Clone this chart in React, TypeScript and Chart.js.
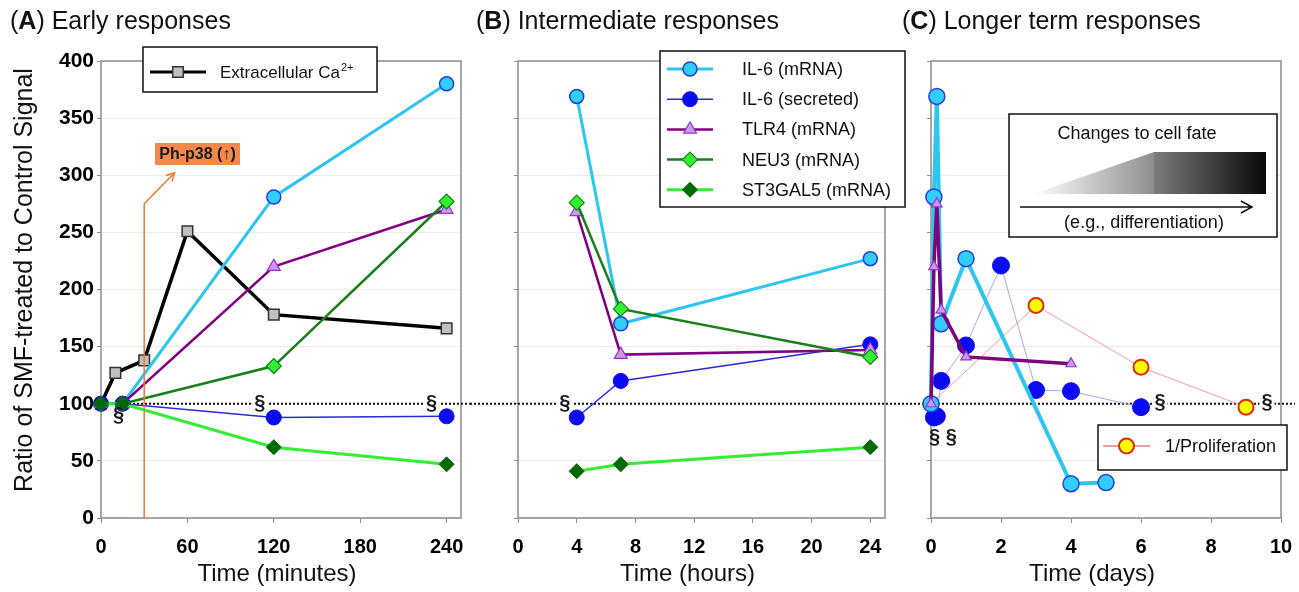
import React, { useEffect, useRef } from 'react';
import { Chart, registerables } from 'chart.js';

Chart.register(...registerables);

const FONT = '"Liberation Sans", Arial, Helvetica, sans-serif';
const H = 592;
const X_AXIS_H = 74;
const PLOT_TOP = 61;

// ---------- Panel A : early responses (minutes) ----------
const caMinutes = [0, 10, 30, 60, 120, 240];
const caValues = [100, 127, 138, 251, 178, 166];
const earlyMinutes = [0, 15, 120, 240];
const il6mRnaEarly = [100, 100, 281, 380];
const il6SecretedEarly = [100, 100, 88, 89];
const tlr4Early = [100, 100, 220, 270];
const neu3Early = [100, 100, 133, 277];
const st3gal5Early = [100, 100, 62, 47];
const ph38Minute = 30;

// ---------- Panel B : intermediate responses (hours) ----------
const midHours = [4, 7, 24];
const il6mRnaMid = [369, 170, 227];
const il6SecretedMid = [88, 120, 152];
const tlr4Mid = [268, 143, 147];
const neu3Mid = [276, 183, 141];
const st3gal5Mid = [41, 47, 62];

// ---------- Panel C : longer term responses (days) ----------
const il6mRnaLongDays = [0, 0.083, 0.167, 0.29, 1, 4, 5];
const il6mRnaLong = [100, 281, 369, 170, 227, 30, 31];
const il6SecretedLongDays = [0.083, 0.167, 0.29, 1, 2, 3, 4, 6];
const il6SecretedLong = [88, 89, 120, 151, 221, 112, 111, 97];
const tlr4LongDays = [0, 0.083, 0.167, 0.29, 1, 4];
const tlr4Long = [100, 220, 275, 182, 141, 135];
const prolifDays = [0, 3, 6, 9];
const prolifLong = [100, 186, 132, 97];

const yTickStep = 50;
const yMin = 0;
const yMax = 400;
const baselineValue = 100;

const LBL_CA = 'Extracellular Ca';
const LBL_IL6M = 'IL-6 (mRNA)';
const LBL_IL6S = 'IL-6 (secreted)';
const LBL_TLR4 = 'TLR4 (mRNA)';
const LBL_NEU3 = 'NEU3 (mRNA)';
const LBL_ST3 = 'ST3GAL5 (mRNA)';
const LBL_PROL = '1/Proliferation';

type Mk = { shape: string; r: number; fill: string; stroke: string; sw: number };
type St = { line: string; lw: number; mk: Mk };

const stCa: St = { line: '#000000', lw: 3.5, mk: { shape: 'square', r: 7.5, fill: '#c0c0c0', stroke: '#333333', sw: 1.5 } };
const stIl6m: St = { line: '#2cc6f0', lw: 3, mk: { shape: 'circle', r: 7, fill: '#33ccff', stroke: '#1f3fe0', sw: 1.5 } };
const stIl6s: St = { line: '#2a2ad8', lw: 1.5, mk: { shape: 'circle', r: 7.5, fill: '#0b0bf2', stroke: '#0b0bf2', sw: 1 } };
const stTlr4: St = { line: '#800080', lw: 2.5, mk: { shape: 'triangle', r: 7.5, fill: '#cc99ee', stroke: '#9933cc', sw: 1.2 } };
const stNeu3: St = { line: '#1a7f1a', lw: 2.5, mk: { shape: 'diamond', r: 7.5, fill: '#33f033', stroke: '#118811', sw: 1.2 } };
const stSt3: St = { line: '#33ee33', lw: 3, mk: { shape: 'diamond', r: 7.5, fill: '#006a00', stroke: '#006a00', sw: 1 } };
const stProl: St = { line: '#f0a0a0', lw: 1, mk: { shape: 'circle', r: 7.5, fill: '#ffff00', stroke: '#e02a10', sw: 2 } };
const stIl6mC: St = { line: '#2cc6f0', lw: 4, mk: { ...stIl6m.mk, r: 8 } };
const stIl6sC: St = { line: '#a8a8f0', lw: 1, mk: { ...stIl6s.mk, r: 8.5 } };
const stTlr4C: St = { line: '#800080', lw: 3.5, mk: { ...stTlr4.mk, r: 6 } };

const shapeMap: Record<string, string> = { circle: 'circle', triangle: 'triangle', diamond: 'rectRot', square: 'rect' };

function ds(xs: number[], ys: number[], st: St, order: number, extra: any = {}) {
  return {
    data: xs.map((x, i) => ({ x, y: ys[i] })),
    borderColor: st.line,
    borderWidth: st.lw,
    pointStyle: shapeMap[st.mk.shape],
    pointRadius: st.mk.r,
    pointHoverRadius: st.mk.r,
    pointBackgroundColor: st.mk.fill,
    pointBorderColor: st.mk.stroke,
    pointBorderWidth: st.mk.sw,
    tension: 0,
    fill: false,
    clip: false,
    order,
    ...extra,
  };
}

function drawMarker(ctx: CanvasRenderingContext2D, x: number, y: number, m: Mk) {
  ctx.save();
  ctx.beginPath();
  const r = m.r;
  if (m.shape === 'circle') ctx.arc(x, y, r, 0, Math.PI * 2);
  else if (m.shape === 'triangle') {
    for (let i = 0; i < 3; i++) {
      const a = -Math.PI / 2 + (i * 2 * Math.PI) / 3;
      const px = x + Math.cos(a) * r;
      const py = y + Math.sin(a) * r;
      if (i === 0) ctx.moveTo(px, py); else ctx.lineTo(px, py);
    }
    ctx.closePath();
  } else if (m.shape === 'diamond') {
    ctx.moveTo(x, y - r); ctx.lineTo(x + r, y); ctx.lineTo(x, y + r); ctx.lineTo(x - r, y); ctx.closePath();
  } else {
    const s = r * Math.SQRT1_2;
    ctx.rect(x - s, y - s, 2 * s, 2 * s);
  }
  ctx.fillStyle = m.fill;
  ctx.fill();
  ctx.lineWidth = m.sw;
  ctx.strokeStyle = m.stroke;
  ctx.stroke();
  ctx.restore();
}

function legendBox(ctx: CanvasRenderingContext2D, x1: number, y1: number, x2: number, y2: number) {
  ctx.save();
  ctx.fillStyle = '#ffffff';
  ctx.fillRect(x1, y1, x2 - x1, y2 - y1);
  ctx.strokeStyle = '#111111';
  ctx.lineWidth = 1.5;
  ctx.strokeRect(x1, y1, x2 - x1, y2 - y1);
  ctx.restore();
}

function legendRow(ctx: CanvasRenderingContext2D, x1: number, x2: number, y: number, st: St, label: string, tx: number, size: number) {
  ctx.save();
  ctx.strokeStyle = st.line;
  ctx.lineWidth = Math.min(st.lw, 3);
  ctx.beginPath();
  ctx.moveTo(x1, y);
  ctx.lineTo(x2, y);
  ctx.stroke();
  drawMarker(ctx, (x1 + x2) / 2, y, st.mk);
  ctx.fillStyle = '#111111';
  ctx.font = `${size}px ${FONT}`;
  ctx.textAlign = 'left';
  ctx.textBaseline = 'alphabetic';
  ctx.fillText(label, tx, y + 6);
  ctx.restore();
}

function drawPanelTitle(ctx: CanvasRenderingContext2D, letter: string, text: string, x: number) {
  ctx.save();
  ctx.fillStyle = '#111111';
  ctx.textAlign = 'left';
  ctx.textBaseline = 'alphabetic';
  ctx.font = `25px ${FONT}`;
  ctx.fillText('(', x, 29);
  let cx = x + ctx.measureText('(').width;
  ctx.font = `bold 25px ${FONT}`;
  ctx.fillText(letter, cx, 29);
  cx += ctx.measureText(letter).width;
  ctx.font = `25px ${FONT}`;
  ctx.fillText(') ' + text, cx, 29);
  ctx.restore();
}

function drawXTitle(ctx: CanvasRenderingContext2D, text: string, cx: number) {
  ctx.save();
  ctx.fillStyle = '#111111';
  ctx.font = `24px ${FONT}`;
  ctx.textAlign = 'center';
  ctx.textBaseline = 'alphabetic';
  ctx.fillText(text, cx, 581);
  ctx.restore();
}

function sect(ctx: CanvasRenderingContext2D, text: string, x: number, y: number, clearBg = false) {
  ctx.save();
  ctx.font = `bold 20px ${FONT}`;
  const w = ctx.measureText(text).width;
  if (clearBg) {
    ctx.fillStyle = '#ffffff';
    ctx.fillRect(x - w / 2 - 2, y - 3, w + 4, 6);
  }
  ctx.fillStyle = '#1a1a1a';
  ctx.textAlign = 'center';
  ctx.textBaseline = 'middle';
  ctx.fillText(text, x, y);
  ctx.restore();
}

function frameAndBaseline(chart: any, x1: number, x2: number) {
  const { ctx, chartArea: ca, scales } = chart;
  ctx.save();
  ctx.strokeStyle = '#8c8c8c';
  ctx.lineWidth = 1.5;
  ctx.strokeRect(ca.left, ca.top, ca.right - ca.left, ca.bottom - ca.top);
  const y = scales.y.getPixelForValue(baselineValue);
  ctx.strokeStyle = '#111111';
  ctx.lineWidth = 2;
  ctx.setLineDash([2, 2]);
  ctx.beginPath();
  ctx.moveTo(x1, y);
  ctx.lineTo(x2, y);
  ctx.stroke();
  ctx.restore();
}

function yScale(width: number, showLabels: boolean) {
  return {
    type: 'linear',
    min: yMin,
    max: yMax,
    ticks: {
      stepSize: yTickStep,
      display: showLabels,
      font: { family: FONT, size: 21, weight: 'bold' },
      color: '#000000',
      padding: 3,
    },
    grid: { color: '#ececec', tickColor: '#8c8c8c', tickLength: 4, lineWidth: 1 },
    border: { display: false },
    afterFit: (s: any) => {
      s.width = width;
      s.paddingTop = 0;
      s.paddingBottom = 0;
    },
  };
}

function xScale(max: number, step: number) {
  return {
    type: 'linear',
    min: 0,
    max,
    ticks: {
      stepSize: step,
      includeBounds: false,
      autoSkip: false,
      maxRotation: 0,
      font: { family: FONT, size: 20, weight: 'bold' },
      color: '#000000',
      padding: 12,
    },
    grid: { drawOnChartArea: false, drawTicks: true, tickLength: 5, tickColor: '#8c8c8c', color: '#8c8c8c' },
    border: { display: false },
    afterFit: (s: any) => {
      s.height = X_AXIS_H;
      s.paddingLeft = 0;
      s.paddingRight = 0;
    },
  };
}

function baseOptions(padRight: number, yWidth: number, showY: boolean, xMax: number, xStep: number) {
  return {
    responsive: false,
    maintainAspectRatio: false,
    animation: false,
    devicePixelRatio: 1,
    events: [],
    layout: { padding: { top: PLOT_TOP, right: padRight, left: 0, bottom: 0 } },
    plugins: { legend: { display: false }, tooltip: { enabled: false }, title: { display: false } },
    scales: { x: xScale(xMax, xStep), y: yScale(yWidth, showY) },
  };
}

function buildA(): any {
  const datasets = [
    ds(caMinutes, caValues, stCa, 6),
    ds(earlyMinutes, il6mRnaEarly, stIl6m, 5),
    ds(earlyMinutes, il6SecretedEarly, stIl6s, 4),
    ds(earlyMinutes, tlr4Early, stTlr4, 3),
    ds(earlyMinutes, neu3Early, stNeu3, 2),
    ds(earlyMinutes, st3gal5Early, stSt3, 1),
  ];
  return {
    type: 'line',
    data: { datasets },
    options: baseOptions(5, 101, true, 250, 60),
    plugins: [
      {
        id: 'decorA',
        beforeDatasetsDraw(chart: any) {
          frameAndBaseline(chart, chart.chartArea.left - 4, chart.width);
          const { ctx, scales: { x, y } } = chart;
          const yb = y.getPixelForValue(baselineValue);
          sect(ctx, '§', x.getPixelForValue(120) - 14, yb, true);
          sect(ctx, '§', x.getPixelForValue(240) - 15, yb, true);
        },
        afterDatasetsDraw(chart: any) {
          const { ctx, chartArea: ca, scales: { x, y } } = chart;
          // Ph-p38 marker
          const xp = x.getPixelForValue(ph38Minute);
          const kx = xp, ky = y.getPixelForValue(275);
          const tx = x.getPixelForValue(51), ty = y.getPixelForValue(302);
          ctx.save();
          ctx.strokeStyle = '#f07a30';
          ctx.lineWidth = 1.5;
          ctx.beginPath();
          ctx.moveTo(xp, ca.bottom);
          ctx.lineTo(kx, ky);
          ctx.lineTo(tx, ty);
          ctx.stroke();
          const ang = Math.atan2(ty - ky, tx - kx);
          ctx.beginPath();
          ctx.moveTo(tx - 9 * Math.cos(ang - 0.5), ty - 9 * Math.sin(ang - 0.5));
          ctx.lineTo(tx, ty);
          ctx.lineTo(tx - 9 * Math.cos(ang + 0.5), ty - 9 * Math.sin(ang + 0.5));
          ctx.stroke();
          ctx.fillStyle = '#f5894d';
          ctx.fillRect(155, 143, 85, 22);
          ctx.fillStyle = '#1a1a1a';
          ctx.font = `bold 16px ${FONT}`;
          ctx.textAlign = 'center';
          ctx.textBaseline = 'middle';
          ctx.fillText('Ph-p38 (\u2191)', 197.5, 154.5);
          ctx.restore();

          const yb = y.getPixelForValue(baselineValue);
          sect(ctx, '§', x.getPixelForValue(15) - 4, yb + 12);
        },
        afterDraw(chart: any) {
          const { ctx, chartArea: ca } = chart;
          drawPanelTitle(ctx, 'A', 'Early responses', 10);
          drawXTitle(ctx, 'Time (minutes)', (ca.left + ca.right) / 2 - 4);
          // y-axis title
          ctx.save();
          ctx.translate(32, 280);
          ctx.rotate(-Math.PI / 2);
          ctx.font = `25px ${FONT}`;
          ctx.fillStyle = '#111111';
          ctx.textAlign = 'center';
          ctx.textBaseline = 'alphabetic';
          ctx.fillText('Ratio of SMF-treated to Control Signal', 0, 0);
          ctx.restore();
          // legend
          legendBox(ctx, 143, 47, 377, 92);
          legendRow(ctx, 150, 206, 72, stCa, LBL_CA, 220, 17);
          ctx.save();
          ctx.font = `17px ${FONT}`;
          const w = ctx.measureText(LBL_CA).width;
          ctx.font = `11px ${FONT}`;
          ctx.fillStyle = '#111111';
          ctx.textBaseline = 'alphabetic';
          ctx.fillText('2+', 220 + w + 1, 71);
          ctx.restore();
        },
      },
    ],
  };
}

function buildB(): any {
  const datasets = [
    ds(midHours, il6mRnaMid, stIl6m, 5),
    ds(midHours, il6SecretedMid, stIl6s, 4),
    ds(midHours, tlr4Mid, stTlr4, 3),
    ds(midHours, neu3Mid, stNeu3, 2),
    ds(midHours, st3gal5Mid, stSt3, 1),
  ];
  return {
    type: 'line',
    data: { datasets },
    options: baseOptions(25, 48, false, 25, 4),
    plugins: [
      {
        id: 'decorB',
        beforeDatasetsDraw(chart: any) {
          frameAndBaseline(chart, 0, chart.width);
          const { ctx, scales: { x, y } } = chart;
          sect(ctx, '§', x.getPixelForValue(4) - 12, y.getPixelForValue(baselineValue), true);
        },
        afterDraw(chart: any) {
          const { ctx, chartArea: ca } = chart;
          drawPanelTitle(ctx, 'B', 'Intermediate responses', 6);
          drawXTitle(ctx, 'Time (hours)', (ca.left + ca.right) / 2 - 14);
          legendBox(ctx, 190, 51, 435, 207);
          const rows: [St, string][] = [
            [stIl6m, LBL_IL6M],
            [stIl6s, LBL_IL6S],
            [stTlr4, LBL_TLR4],
            [stNeu3, LBL_NEU3],
            [stSt3, LBL_ST3],
          ];
          rows.forEach(([st, label], i) => {
            legendRow(ctx, 197, 243, 69 + i * 30.2, st, label, 272, 18);
          });
        },
      },
    ],
  };
}

function buildC(): any {
  const datasets = [
    ds(prolifDays, prolifLong, stProl, 4, { pointRadius: [0, 7.5, 7.5, 7.5] }),
    ds(il6SecretedLongDays, il6SecretedLong, stIl6sC, 3),
    ds(il6mRnaLongDays, il6mRnaLong, stIl6mC, 2),
    ds(tlr4LongDays, tlr4Long, stTlr4C, 1),
  ];
  return {
    type: 'line',
    data: { datasets },
    options: baseOptions(18, 31, false, 10, 2),
    plugins: [
      {
        id: 'decorC',
        beforeDatasetsDraw(chart: any) {
          frameAndBaseline(chart, 10, 395);
          const { ctx, scales: { x, y } } = chart;
          const yb = y.getPixelForValue(baselineValue);
          sect(ctx, '§', x.getPixelForValue(6) + 19, yb - 1, true);
          sect(ctx, '§', x.getPixelForValue(9) + 21, yb - 1, true);
        },
        afterDatasetsDraw(chart: any) {
          const { ctx, scales: { x, y } } = chart;
          const yb = y.getPixelForValue(baselineValue);
          sect(ctx, '§ §', x.getPixelForValue(0) + 12, yb + 34);
        },
        afterDraw(chart: any) {
          const { ctx, chartArea: ca } = chart;
          drawPanelTitle(ctx, 'C', 'Longer term responses', 2);
          drawXTitle(ctx, 'Time (days)', (ca.left + ca.right) / 2 - 14);
          // cell fate box
          legendBox(ctx, 109, 114, 377, 237);
          ctx.save();
          ctx.fillStyle = '#111111';
          ctx.font = `18px ${FONT}`;
          ctx.textAlign = 'center';
          ctx.textBaseline = 'alphabetic';
          ctx.fillText('Changes to cell fate', 237, 139);
          ctx.fillText('(e.g., differentiation)', 244, 228);
          const g1 = ctx.createLinearGradient(133, 0, 254, 0);
          g1.addColorStop(0, 'rgba(255,255,255,1)');
          g1.addColorStop(1, '#8e8e8e');
          ctx.fillStyle = g1;
          ctx.beginPath();
          ctx.moveTo(133, 194);
          ctx.lineTo(254, 152);
          ctx.lineTo(254, 194);
          ctx.closePath();
          ctx.fill();
          const g2 = ctx.createLinearGradient(254, 0, 366, 0);
          g2.addColorStop(0, '#7c7c7c');
          g2.addColorStop(1, '#080808');
          ctx.fillStyle = g2;
          ctx.fillRect(254, 152, 112, 42);
          ctx.strokeStyle = '#111111';
          ctx.lineWidth = 1.5;
          ctx.beginPath();
          ctx.moveTo(120, 207);
          ctx.lineTo(352, 207);
          ctx.moveTo(341, 201);
          ctx.lineTo(352, 207);
          ctx.lineTo(341, 213);
          ctx.stroke();
          ctx.restore();
          // legend
          legendBox(ctx, 198, 425, 387, 470);
          legendRow(ctx, 203, 250, 446, { ...stProl, line: '#d04040' }, LBL_PROL, 265, 18);
        },
      },
    ],
  };
}

function Panel({ left, width, build }: { left: number; width: number; build: () => any }) {
  const ref = useRef<HTMLCanvasElement>(null);
  useEffect(() => {
    const chart = new Chart(ref.current as HTMLCanvasElement, build());
    return () => chart.destroy();
  }, []);
  return (
    <canvas
      ref={ref}
      width={width}
      height={H}
      style={{ position: 'absolute', left, top: 0, width, height: H, display: 'block' }}
    />
  );
}

export default function App() {
  return (
    <div style={{ position: 'absolute', left: 0, top: 0, width: 1299, height: H, background: '#ffffff', overflow: 'hidden' }}>
      <Panel left={0} width={470} build={buildA} />
      <Panel left={470} width={440} build={buildB} />
      <Panel left={900} width={399} build={buildC} />
    </div>
  );
}
